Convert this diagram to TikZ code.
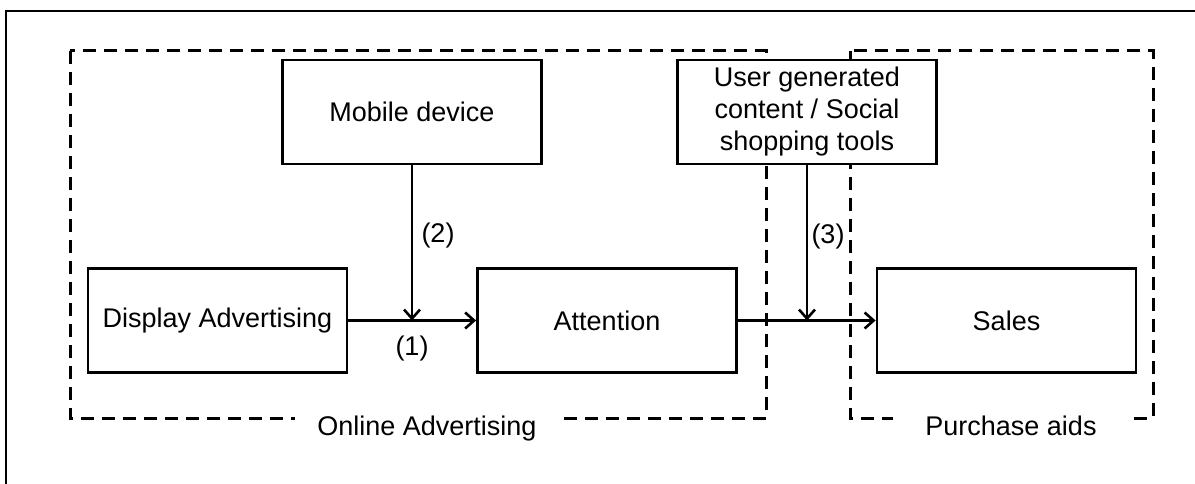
\documentclass[tikz,border=0pt]{standalone}
\usepackage{fontspec}
\setmainfont{Liberation Sans}
\usetikzlibrary{arrows.meta}
\begin{document}
\begin{tikzpicture}[x=1pt,y=-1pt,
  font=\fontsize{27}{32}\selectfont,
  box/.style={draw, line width=2.8pt, fill=white, minimum width=259pt, minimum height=104pt, inner sep=0pt, align=center},
  group/.style={draw, line width=3pt, dash pattern=on 13pt off 8pt},
  grouplabel/.style={fill=white, inner ysep=2pt, anchor=base},
  conn/.style={line width=2.6pt},
  arr/.style={conn, -{Straight Barb[length=9pt, width=16pt, line width=2.6pt]}},
  lbl/.style={inner sep=0pt}
]
\useasboundingbox (0,0) rectangle (1195,484);

% frame
\draw[line width=2.6pt] (6,490) -- (6,11) -- (1200,11);

% dashed groups
\draw[group] (70,51) rectangle (766,418);
\draw[group] (850,51) rectangle (1153,418);
\node[grouplabel, inner xsep=22pt] (onl) at (427,435) {Online Advertising};
\node[grouplabel, inner xsep=32pt] (pur) at (1011,435) {Purchase aids};

% boxes
\node[box] (mob)  at (412,112) {Mobile device};
\node[box] (ugc)  at (807,112) {User generated\\content / Social\\shopping tools};
\node[box] (disp) at (217.5,320.5) {Display Advertising};
\node[box] (att)  at (607,320.5) {Attention};
\node[box] (sal)  at (1006.5,320.5) {Sales};

% junctions
\coordinate (j1) at (mob.south |- disp.east);
\coordinate (j2) at (ugc.south |- att.east);

% connectors
\draw[arr] (disp.east) -- (att.west);
\draw[arr] (mob.south) -- (j1);
\draw[arr] (att.east) -- (sal.west);
\draw[arr] (ugc.south) -- (j2);

% labels
\node[lbl] (l1) at (412,349) {(1)};
\node[lbl] (l2) at (438,236) {(2)};
\node[lbl] (l3) at (828,237) {(3)};
\end{tikzpicture}
\end{document}
